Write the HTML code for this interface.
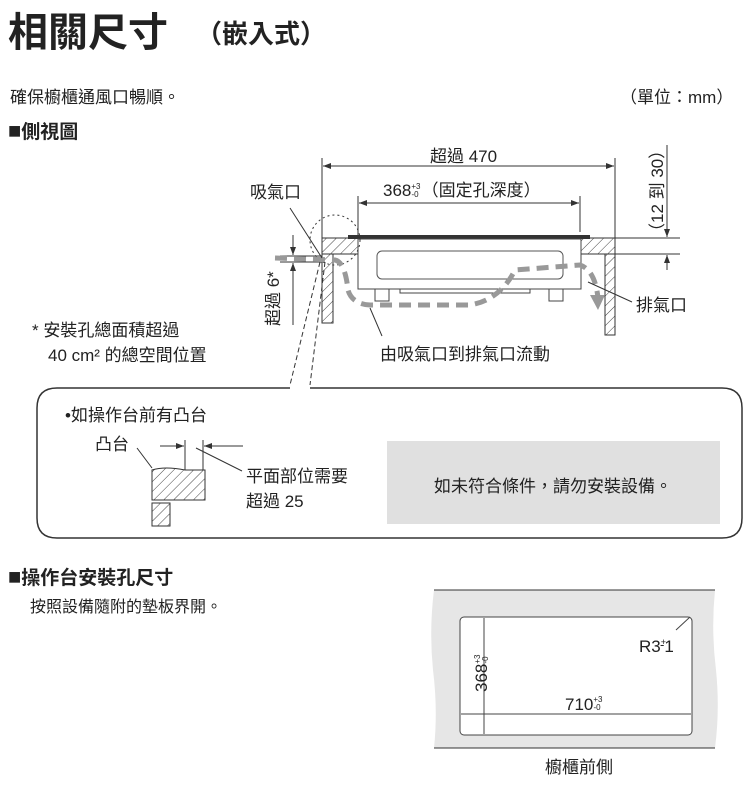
<!DOCTYPE html>
<html><head><meta charset="utf-8"><style>
html,body{margin:0;padding:0;background:#fff;width:750px;height:785px;overflow:hidden}
svg{display:block}
text{font-family:"Liberation Sans","Noto Sans CJK TC",sans-serif;fill:#222}
</style></head><body>
<svg width="750" height="785" viewBox="0 0 750 785">
<defs>
<pattern id="h" width="7" height="7" patternUnits="userSpaceOnUse" patternTransform="rotate(45)">
<rect width="7" height="7" fill="#fff"/><line x1="0" y1="0" x2="0" y2="7" stroke="#444" stroke-width="1"/></pattern>
<marker id="a" markerWidth="8" markerHeight="6" refX="8" refY="3" orient="auto"><path d="M0,0L8,3L0,6z" fill="#333"/></marker>
<marker id="as" markerWidth="8" markerHeight="6" refX="0" refY="3" orient="auto"><path d="M8,0L0,3L8,6z" fill="#333"/></marker>
</defs>
<text x="8" y="46" font-size="40" font-weight="bold" fill="#111">相關尺寸</text>
<text x="196" y="43" font-size="26" font-weight="bold" fill="#111" font-family="'Noto Sans CJK TC',sans-serif">（嵌入式）</text>
<text x="10" y="103" font-size="17">確保櫥櫃通風口暢順。</text>
<text x="620" y="103" font-size="17">（單位：mm）</text>
<text x="8" y="138" font-size="19" font-weight="bold"><tspan font-size="22">■</tspan>側視圖</text>

<g stroke="#333" stroke-width="1" fill="none">
<line x1="322" y1="158" x2="322" y2="240"/><line x1="615" y1="158" x2="615" y2="240"/>
<line x1="323" y1="166" x2="614" y2="166" marker-start="url(#as)" marker-end="url(#a)"/>
<line x1="358" y1="196" x2="358" y2="237"/><line x1="580" y1="196" x2="580" y2="232"/>
<line x1="359" y1="203" x2="579" y2="203" marker-start="url(#as)" marker-end="url(#a)"/>
<line x1="615" y1="238" x2="680" y2="238"/><line x1="615" y1="254" x2="680" y2="254"/>
<line x1="667" y1="145" x2="667" y2="237" marker-end="url(#a)"/>
<line x1="667" y1="270" x2="667" y2="255" marker-end="url(#a)"/>
<line x1="280" y1="256" x2="322" y2="256"/><line x1="280" y1="262" x2="322" y2="262"/>
<line x1="293" y1="235" x2="293" y2="255" marker-end="url(#a)"/>
<line x1="293" y1="325" x2="293" y2="263" marker-end="url(#a)"/>
</g>
<rect x="322" y="238" width="38" height="16" fill="url(#h)" stroke="#333"/>
<rect x="580" y="238" width="35" height="16" fill="url(#h)" stroke="#333"/>
<rect x="322" y="254" width="11" height="69" fill="url(#h)" stroke="#333"/>
<rect x="605" y="254" width="10" height="81" fill="url(#h)" stroke="#333"/>
<rect x="348" y="235" width="242" height="4" fill="#333"/>
<rect x="358" y="239" width="223" height="50" fill="#fff" stroke="#444"/>
<rect x="377" y="251" width="186" height="28" rx="5" fill="none" stroke="#555"/>
<g fill="#fff" stroke="#444"><rect x="375" y="289" width="14" height="12"/><rect x="549" y="289" width="14" height="12"/>
<rect x="400" y="289" width="130" height="4"/></g>
<circle cx="335" cy="240" r="25" fill="none" stroke="#333" stroke-dasharray="2,3"/>
<path d="M275,258 L335,260 Q345,262 348,290 Q352,304 370,305 L470,305 Q500,300 515,270 L580,265 Q595,270 598,298" fill="none" stroke="#999" stroke-width="5" stroke-dasharray="12,7"/>
<path d="M590,295 L598,310 L605,295z" fill="#999"/>
<g stroke="#333" fill="none">
<line x1="290" y1="208" x2="322" y2="258"/>
<line x1="588" y1="282" x2="632" y2="302"/>
<line x1="370" y1="308" x2="382" y2="336"/>
<line x1="320" y1="262" x2="290" y2="385" stroke-dasharray="5,3"/>
<line x1="325" y1="262" x2="310" y2="385" stroke-dasharray="5,3"/>
</g>
<text x="250" y="198" font-size="17">吸氣口</text>
<text x="636" y="311" font-size="17">排氣口</text>
<text x="380" y="360" font-size="17">由吸氣口到排氣口流動</text>
<text x="430" y="162" font-size="17">超過 470</text>
<text x="383" y="196" font-size="17">368<tspan font-size="8" dy="-7">+3</tspan><tspan font-size="8" dx="-9" dy="8">-0</tspan><tspan font-size="17" dy="-1" dx="3">（固定孔深度）</tspan></text>
<text transform="translate(663,240) rotate(-90)" font-size="17">（12 到 30）</text>
<text transform="translate(279,326) rotate(-90)" font-size="17">超過 6*</text>
<text x="32" y="336" font-size="17">* 安裝孔總面積超過</text>
<text x="48" y="361" font-size="17">40 cm² 的總空間位置</text>

<path d="M290,388 L57,388 Q37,388 37,408 L37,518 Q37,538 57,538 L722,538 Q742,538 742,518 L742,408 Q742,388 722,388 L310,388" fill="none" stroke="#333" stroke-width="1.5"/>
<rect x="387" y="441" width="333" height="83" fill="#e0e0e0"/>
<text x="553" y="492" font-size="17" text-anchor="middle">如未符合條件，請勿安裝設備。</text>
<text x="65" y="421" font-size="17">•如操作台前有凸台</text>
<text x="95" y="450" font-size="17">凸台</text>
<path d="M152,470 Q165,466 185,470 L205,470 L205,500 L152,500z" fill="url(#h)" stroke="#333"/>
<rect x="152" y="503" width="18" height="23" fill="url(#h)" stroke="#333"/>
<g stroke="#333" fill="none">
<line x1="185" y1="440" x2="185" y2="470"/><line x1="203" y1="440" x2="203" y2="470"/>
<line x1="160" y1="446" x2="184" y2="446" marker-end="url(#a)"/>
<line x1="243" y1="446" x2="204" y2="446" marker-end="url(#a)"/>
<line x1="137" y1="448" x2="152" y2="468"/>
<line x1="196" y1="448" x2="242" y2="471"/>
</g>
<text x="246" y="482" font-size="17">平面部位需要</text>
<text x="246" y="507" font-size="17">超過 25</text>

<text x="8" y="584" font-size="19" font-weight="bold"><tspan font-size="22">■</tspan>操作台安裝孔尺寸</text>
<text x="30" y="612" font-size="16">按照設備隨附的墊板界開。</text>
<path d="M434,590 L715,590 Q711,630 716,670 Q720,710 715,748 L434,748 Q438,710 433,670 Q429,630 434,590z" fill="#e6e6e6"/>
<line x1="434" y1="590" x2="715" y2="590" stroke="#333"/>
<line x1="434" y1="748" x2="715" y2="748" stroke="#333"/>
<rect x="460" y="617" width="232" height="118" rx="4" fill="#fff" stroke="#444"/>
<g stroke="#444" fill="none">
<line x1="484" y1="618" x2="484" y2="734"/>
<line x1="461" y1="714" x2="691" y2="714"/>
<line x1="676" y1="630" x2="690" y2="617"/>
</g>
<text transform="translate(487,692) rotate(-90)" font-size="17">368<tspan font-size="8" dy="-7">+3</tspan><tspan font-size="8" dx="-9" dy="8">-0</tspan></text>
<text x="565" y="710" font-size="17">710<tspan font-size="8" dy="-8">+3</tspan><tspan font-size="8" dx="-9" dy="8">-0</tspan></text>
<text x="639" y="652" font-size="17">R3<tspan font-size="9" dy="-7">+</tspan><tspan font-size="13" dx="-6" dy="4">-</tspan><tspan font-size="17" dy="3">1</tspan></text>
<text x="545" y="773" font-size="17">櫥櫃前側</text>
</svg>
</body></html>
